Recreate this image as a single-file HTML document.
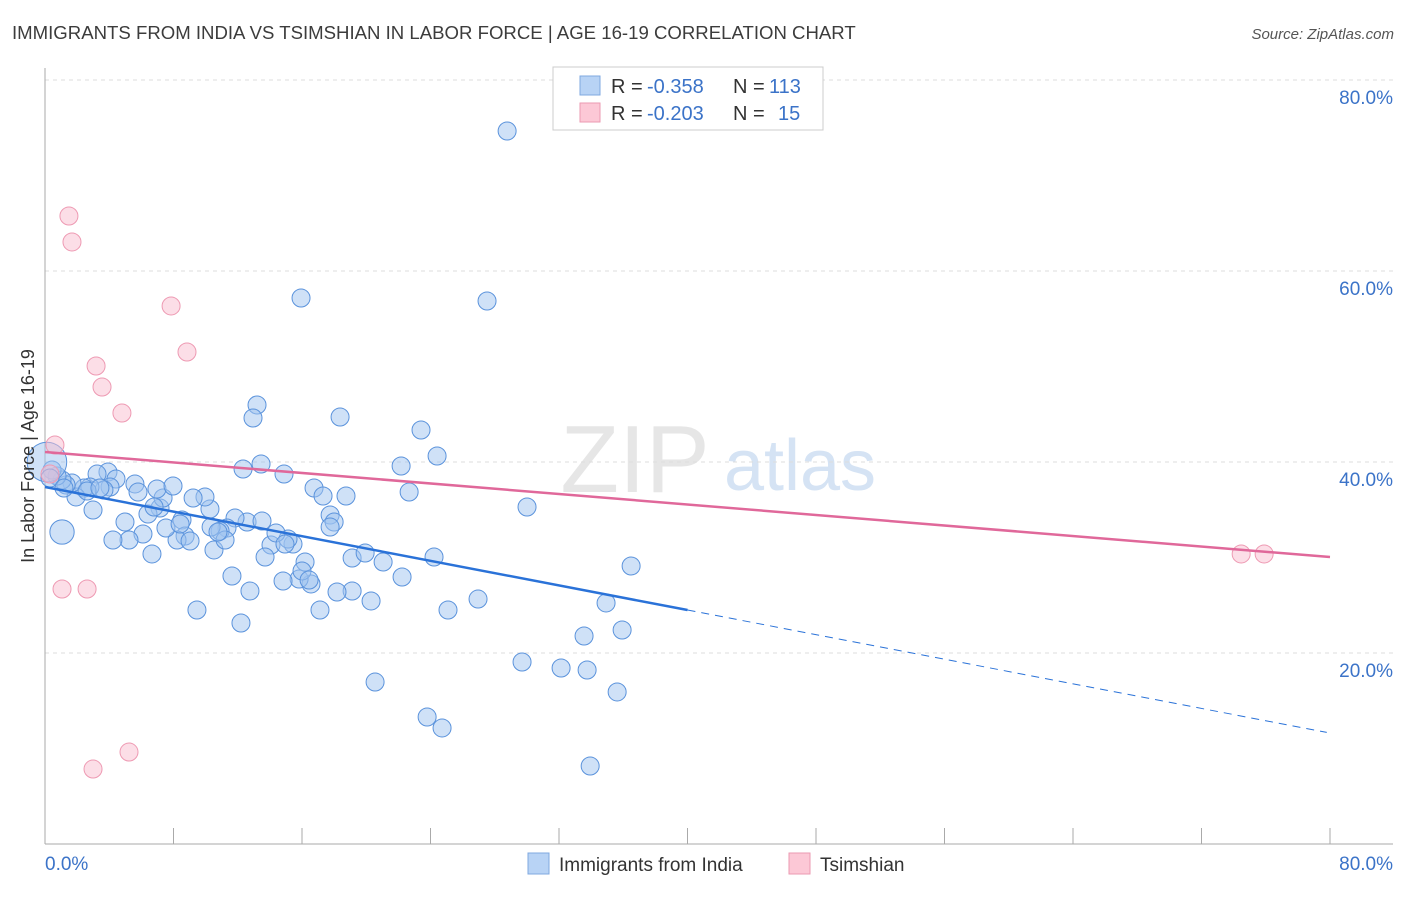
<!DOCTYPE html>
<html><head><meta charset="utf-8"><style>
body{margin:0;background:#fff;font-family:"Liberation Sans",sans-serif;}
svg text{font-family:"Liberation Sans",sans-serif;}
</style></head><body>
<svg id="chart" width="1406" height="892" viewBox="0 0 1406 892" xmlns="http://www.w3.org/2000/svg">
<text x="12" y="39" font-size="18.6" fill="#3c3c3c">IMMIGRANTS FROM INDIA VS TSIMSHIAN IN LABOR FORCE | AGE 16-19 CORRELATION CHART</text>
<text x="1394" y="39" font-size="15" fill="#555" text-anchor="end" font-style="italic">Source: ZipAtlas.com</text>
<g>
<text x="635" y="492" font-size="96" fill="#e6e6e6" font-family="Liberation Serif" text-anchor="middle">ZIP</text>
<text x="800" y="490" font-size="72" fill="#d5e3f4" text-anchor="middle">atlas</text>
</g>
<g id="grid"></g><g id="axes"></g><g id="marks"></g>
<text transform="translate(34,456) rotate(-90)" font-size="18" fill="#333" text-anchor="middle">In Labor Force | Age 16-19</text>
<g>
<rect x="553" y="67" width="270" height="63" fill="#fff" stroke="#ccc"/>
<rect x="580" y="76" width="20" height="19" fill="#b8d3f5" stroke="#7fa8e0"/>
<rect x="580" y="103" width="20" height="19" fill="#fcc8d6" stroke="#eb9ab2"/>
<text x="611" y="93" font-size="20" fill="#333">R =</text>
<text x="647" y="93" font-size="20" fill="#3b73c8">-0.358</text>
<text x="733" y="93" font-size="20" fill="#333">N =</text>
<text x="769" y="93" font-size="20" fill="#3b73c8">113</text>
<text x="611" y="120" font-size="20" fill="#333">R =</text>
<text x="647" y="120" font-size="20" fill="#3b73c8">-0.203</text>
<text x="733" y="120" font-size="20" fill="#333">N =</text>
<text x="778" y="120" font-size="20" fill="#3b73c8">15</text>
</g>
<g>
<rect x="528" y="853" width="21" height="21" fill="#b8d3f5" stroke="#7fa8e0"/>
<text x="559" y="871" font-size="19" fill="#333">Immigrants from India</text>
<rect x="789" y="853" width="21" height="21" fill="#fcc8d6" stroke="#eb9ab2"/>
<text x="820" y="871" font-size="19" fill="#333">Tsimshian</text>
</g>
</svg>
<script>
const yTicks=[20,40,60,80];
const yTickLabels=["20.0%","40.0%","60.0%","80.0%"];
const xTicks=[0,8,16,24,32,40,48,56,64,72,80];
const blueX=[28.77,15.94,27.52,13.20,12.95,18.37,23.41,24.41,22.17,12.33,13.45,22.67,30.01,24.22,36.49,34.93,25.09,26.96,35.93,33.56,29.70,32.13,33.75,35.62,20.55,23.79,24.72,33.94,9.46,12.20,11.64,12.76,14.88,16.75,17.31,18.74,17.75,18.00,19.12,19.93,21.05,22.23,20.30,19.12,18.18,17.12,16.56,15.82,14.82,16.19,15.44,14.07,15.13,14.38,13.70,12.58,11.83,11.33,10.90,10.52,10.34,11.21,10.27,9.96,9.22,8.53,8.72,8.22,9.03,7.53,7.16,7.35,6.97,7.97,6.41,6.10,6.66,5.23,4.23,4.98,5.60,5.79,3.92,4.42,3.24,4.05,3.67,2.99,2.80,2.43,1.93,1.68,1.31,1.06,0.75,0.44,0.12,0.31,1.18,1.06,2.62,3.42,8.41,10.77,6.79,13.51,14.94,16.00,16.44,17.75];
const blueY=[74.66,57.17,56.86,45.97,44.61,44.71,43.35,40.63,39.58,39.27,39.79,36.86,35.29,30.05,29.11,25.24,24.50,25.65,22.41,21.78,19.06,18.43,18.22,15.92,16.96,13.30,12.15,8.17,24.50,23.14,28.06,26.49,38.74,37.28,36.44,36.44,34.45,33.72,29.95,30.47,29.53,27.96,25.45,26.49,26.39,24.50,27.23,27.75,27.54,29.53,31.41,31.31,31.94,32.57,30.05,33.72,34.14,33.09,32.77,30.79,33.19,31.83,35.08,36.34,36.23,33.93,32.25,31.83,31.73,33.09,35.18,36.23,37.17,37.49,34.55,32.46,30.37,31.83,31.83,33.72,37.70,36.86,38.95,38.22,38.74,37.38,37.07,34.97,37.38,37.28,36.34,37.80,37.59,38.12,38.53,39.16,40.00,38.32,37.28,32.67,36.96,37.28,33.51,32.67,35.29,33.82,31.41,28.59,27.64,33.19];
const blueBig={96:2.2,99:1.35};
const pinkX=[1.49,1.68,7.85,8.84,3.18,3.55,4.79,0.62,0.31,1.06,2.62,5.23,2.99,74.47,75.90];
const pinkY=[65.76,63.04,56.34,51.52,50.05,47.85,45.13,41.78,38.74,26.70,26.70,9.63,7.85,30.37,30.37];
const blueTrend=[37.38,-0.322];
const pinkTrend=[41.05,-0.1375];
const xs=v=>45+v*16.0625, ys=v=>844-v*9.55;
const NS="http://www.w3.org/2000/svg";
function mk(t,a,p){const e=document.createElementNS(NS,t);for(const k in a)e.setAttribute(k,a[k]);p.appendChild(e);return e;}
const grid=document.getElementById('grid'),axes=document.getElementById('axes'),marks=document.getElementById('marks');
yTicks.forEach((v,i)=>{
 const l=mk('line',{x1:45,x2:1393,y1:ys(v),y2:ys(v),stroke:'#ddd','stroke-dasharray':'4,4'},grid);
 
 
 const t=mk('text',{x:1393,y:ys(v)+24,'font-size':19,fill:'#3b73c8','text-anchor':'end'},axes);
 t.textContent=yTickLabels[i];
 
 
});
let a=mk('line',{x1:45,x2:45,y1:68,y2:844,stroke:'#aaa'},axes);


a=mk('line',{x1:45,x2:1393,y1:844,y2:844,stroke:'#aaa'},axes);


xTicks.forEach(v=>{const t=mk('line',{x1:xs(v),x2:xs(v),y1:828,y2:844,stroke:'#aaa'},axes);
 
 });
let xl=mk('text',{x:45,y:870,'font-size':19,fill:'#3b73c8'},axes);xl.textContent='0.0%';


xl=mk('text',{x:1393,y:870,'font-size':19,fill:'#3b73c8','text-anchor':'end'},axes);xl.textContent='80.0%';


blueX.forEach((v,i)=>{const r=9*(blueBig[i]||1);
 const c=mk('circle',{cx:xs(v),cy:ys(blueY[i]),r:r,fill:'rgba(160,196,240,0.5)',stroke:'#5b93dc','stroke-width':1},marks);
 
 });
pinkX.forEach((v,i)=>{const c=mk('circle',{cx:xs(v),cy:ys(pinkY[i]),r:9,fill:'rgba(250,190,208,0.5)',stroke:'#ee9ab3','stroke-width':1},marks);
 
 });
const bt=x=>blueTrend[0]+blueTrend[1]*x, pt=x=>pinkTrend[0]+pinkTrend[1]*x;
let l=mk('line',{x1:xs(0),y1:ys(bt(0)),x2:xs(40),y2:ys(bt(40)),stroke:'#2a72d8','stroke-width':2.5},marks);


l=mk('line',{x1:xs(40),y1:ys(bt(40)),x2:xs(79.8),y2:ys(bt(79.8)),stroke:'#2a72d8','stroke-width':1,'stroke-dasharray':'8,6'},marks);


l=mk('line',{x1:xs(0),y1:ys(pt(0)),x2:xs(80),y2:ys(pt(80)),stroke:'#e0689a','stroke-width':2.5},marks);


</script>
</body></html>
